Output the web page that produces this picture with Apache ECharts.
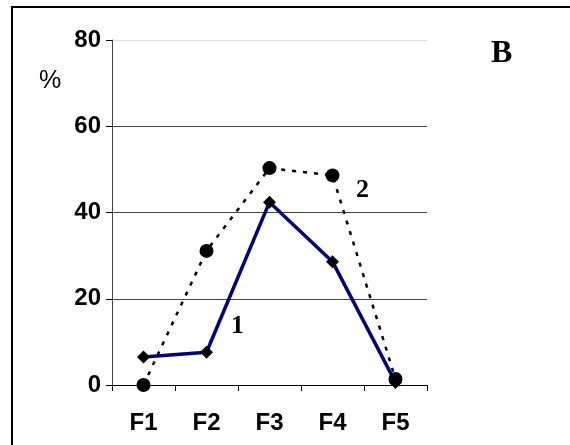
<!DOCTYPE html>
<html>
<head>
<meta charset="utf-8">
<script src="https://cdn.jsdelivr.net/npm/echarts@6/dist/echarts.min.js"></script>
<style>
  html, body { margin: 0; padding: 0; background: #fff; }
  #chart { width: 570px; height: 445px; }
</style>
</head>
<body>
<div id="chart"></div>
<script>
var categories = ['F1', 'F2', 'F3', 'F4', 'F5'];
var series1 = [6.5, 7.6, 42.4, 28.6, 0.6];
var series2 = [0, 31.1, 50.3, 48.6, 1.4];
var yTicks = [0, 20, 40, 60, 80];

var dom = document.getElementById("chart");
var myChart = echarts.init(dom);

var option = {
    backgroundColor: '#fff',
    animation: false,
    grid: {
        left: 112,
        right: 143,
        top: 40,
        bottom: 60
    },
    xAxis: {
        type: 'category',
        data: categories,
        boundaryGap: true,
        axisLine: { lineStyle: { color: '#000', width: 1 } },
        axisTick: { show: true, length: 6, lineStyle: { color: '#000' } },
        axisLabel: {
            margin: 26,
            color: '#000',
            fontFamily: 'Liberation Sans',
            fontWeight: 'bold',
            fontSize: 24
        }
    },
    yAxis: {
        type: 'value',
        min: yTicks[0],
        max: yTicks[yTicks.length - 1],
        interval: 20,
        axisLine: { show: true, lineStyle: { color: '#444', width: 1 } },
        axisTick: { show: true, length: 6, lineStyle: { color: '#000' } },
        axisLabel: {
            margin: 11,
            color: '#000',
            fontFamily: 'Liberation Sans',
            fontWeight: 'bold',
            fontSize: 24,
            lineHeight: 24,
            padding: [10, 0, 0, 0]
        },
        splitLine: {
            lineStyle: { color: ['#444', '#444', '#444', '#444', '#ddd'], width: 1 }
        }
    },
    series: [
        {
            name: '2',
            type: 'line',
            data: series2,
            symbol: 'circle',
            symbolSize: 14,
            itemStyle: { color: '#000' },
            lineStyle: { color: '#000', width: 2.5, type: [4, 7] }
        },
        {
            name: '1',
            type: 'line',
            data: series1,
            symbol: 'diamond',
            symbolSize: 13,
            itemStyle: { color: '#000' },
            lineStyle: { color: '#000080', width: 3.5 }
        }
    ],
    graphic: [
        // outer frame (top and left edges)
        { type: 'line', shape: { x1: 11, y1: 7, x2: 570, y2: 7 }, style: { stroke: '#000', lineWidth: 2 } },
        { type: 'line', shape: { x1: 12, y1: 7, x2: 12, y2: 445 }, style: { stroke: '#000', lineWidth: 2 } },
        { type: 'text', left: 39, top: 69, style: { text: '%', fill: '#000', font: '25px "Liberation Sans"' } },
        { type: 'text', left: 491, top: 38, style: { text: 'B', fill: '#000', font: 'bold 32px "Liberation Serif"' } },
        { type: 'text', left: 231, top: 313, style: { text: '1', fill: '#000', font: 'bold 26px "Liberation Serif"' } },
        { type: 'text', left: 356, top: 177, style: { text: '2', fill: '#000', font: 'bold 26px "Liberation Serif"' } }
    ]
};

if (option && typeof option === "object") {
    myChart.setOption(option, true);
}

window.addEventListener("resize", function () {
    myChart.resize();
});
</script>
</body>
</html>
